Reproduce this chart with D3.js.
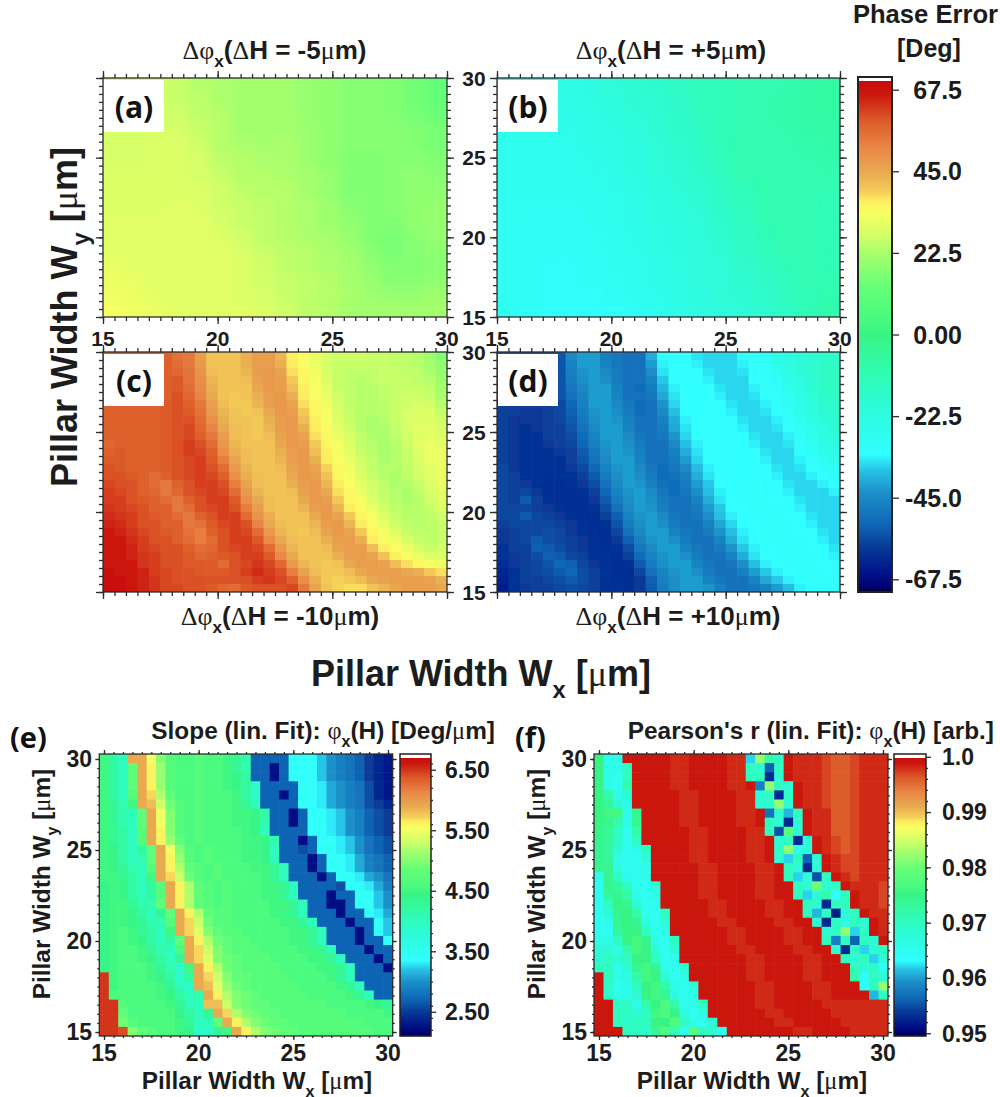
<!DOCTYPE html>
<html>
<head>
<meta charset="utf-8">
<script src="https://cdn.jsdelivr.net/npm/d3@7"></script>
<style>
  html, body { margin: 0; padding: 0; background: #fff; }
  svg { display: block; }
  text { font-family: "Liberation Sans", Arial, sans-serif; font-weight: bold; fill: #1c1c1c; }
  .tag { font-family: "Open Sans", sans-serif; font-weight: 700; fill: #111; }
</style>
</head>
<body>
<div id="chart"></div>
<script>
// colour bar: phase value -> colour
var stopValues = [-71, -70, -66, -58.5, -52, -43.5, -37, -33, -21, -10, 0, 4, 13, 22.5, 27, 33.5, 37, 39.5, 45, 51, 59, 66, 70, 71];
var stopColors = ["#000000", "#00006e", "#001088", "#083c98", "#1068b8", "#1c90c8", "#28c8e8", "#30ffff", "#2dfbdc", "#30fcb0", "#38f484", "#48fa80", "#64ff78", "#a8ff6c", "#d0ff68", "#f8ff62", "#fcec60", "#f4cc58", "#e8a850", "#ea8a48", "#dc5a28", "#cc1810", "#c80a0a", "#c80a0a"];

var phaseTicks = [67.5, 45, 22.5, 0, -22.5, -45, -67.5];
var phaseTickLabels = ["67.5", "45.0", "22.5", "0.00", "-22.5", "-45.0", "-67.5"];
var slopeTicks = [6.5, 5.5, 4.5, 3.5, 2.5];
var slopeTickLabels = ["6.50", "5.50", "4.50", "3.50", "2.50"];
var pearsonTicks = [1000, 990, 980, 970, 960, 950];
var pearsonTickLabels = ["1.0", "0.99", "0.98", "0.97", "0.96", "0.95"];
var majorTicks = [15, 20, 25, 30];

// Phase error, dH = -5um, rows from Wy = 30 down to 15, [deg]
var phaseA = [
[27,27,27,26,24,23,22,22,22,20,19,18,18,17,15,12],
[27,27,27,26,25,23,22,22,22,20,19,18,18,17,15,13],
[28,28,27,27,25,24,22,22,22,20,19,18,18,17,16,14],
[28,28,28,28,26,24,22,22,22,21,19,18,18,18,17,16],
[28,28,29,29,27,24,23,22,23,21,19,18,18,18,17,16],
[28,28,29,29,28,25,24,23,23,21,19,17,17,18,18,17],
[29,29,29,29,28,26,24,24,23,22,20,17,17,18,19,18],
[29,29,29,29,29,27,25,24,24,22,20,17,17,18,19,19],
[29,29,29,30,29,27,26,25,24,23,21,18,17,18,19,20],
[30,30,30,30,30,28,26,25,24,23,21,19,17,17,19,20],
[30,30,30,30,30,29,27,25,24,23,22,20,17,16,18,20],
[30,30,30,30,30,30,28,26,25,24,23,21,18,16,18,19],
[31,30,30,30,30,30,29,27,25,24,23,22,19,17,17,18],
[31,31,30,30,30,30,29,27,26,25,24,22,20,18,18,19],
[32,31,30,30,30,30,29,28,26,25,24,23,21,20,20,21],
[33,32,31,30,30,30,30,29,27,25,24,22,22,22,22,22]];

// Phase error, dH = +5um
var phaseB = [
[-25,-25,-25,-24,-22,-20,-18,-17,-15,-13,-12,-11,-10,-10,-8,-7],
[-25,-25,-25,-24,-23,-21,-19,-18,-16,-13,-12,-11,-10,-9,-8,-7],
[-26,-26,-26,-25,-24,-22,-20,-18,-16,-14,-12,-11,-10,-9,-8,-7],
[-26,-26,-26,-26,-24,-23,-21,-19,-17,-15,-12,-11,-10,-10,-8,-8],
[-27,-27,-27,-26,-25,-24,-22,-20,-18,-15,-12,-10,-10,-10,-9,-8],
[-27,-27,-27,-27,-26,-24,-22,-20,-18,-16,-13,-10,-10,-10,-10,-9],
[-28,-28,-28,-28,-26,-25,-23,-21,-19,-17,-14,-11,-10,-10,-10,-10],
[-28,-28,-28,-28,-27,-26,-24,-22,-20,-18,-15,-12,-10,-10,-11,-11],
[-29,-29,-29,-29,-28,-26,-25,-23,-21,-19,-16,-13,-10,-10,-11,-12],
[-29,-29,-30,-30,-28,-27,-25,-23,-22,-20,-17,-14,-11,-10,-11,-12],
[-29,-30,-30,-30,-29,-27,-26,-24,-22,-20,-18,-15,-12,-10,-11,-12],
[-29,-30,-30,-30,-30,-28,-26,-24,-22,-21,-19,-16,-13,-11,-11,-12],
[-29,-30,-31,-31,-30,-28,-27,-25,-23,-21,-20,-17,-14,-12,-11,-12],
[-29,-30,-31,-31,-30,-29,-27,-25,-23,-21,-20,-18,-16,-13,-11,-11],
[-29,-30,-31,-31,-31,-30,-28,-26,-24,-22,-20,-19,-17,-14,-12,-10],
[-28,-30,-31,-31,-31,-31,-29,-27,-25,-23,-21,-20,-18,-15,-12,-9]];

// Phase error, dH = -10um
var phaseC = [
[58,58,58,58,58,58,55,54,47,41,41,41,44,47,47,43,36,34,31,28,27,27,27,26,26,25,25,24,21,17],
[58,58,58,58,58,58,56,54,48,41,41,41,44,47,47,44,37,34,31,28,26,26,26,26,26,25,25,24,22,19],
[58,58,58,58,58,58,57,55,49,42,41,41,43,47,48,46,38,35,32,28,26,25,25,25,26,26,25,25,23,20],
[58,58,58,58,58,58,59,55,50,43,41,41,42,46,48,47,40,35,33,29,26,25,24,25,26,26,26,25,24,21],
[58,58,58,58,58,58,59,56,51,44,41,41,41,45,48,47,42,36,34,30,26,25,24,24,25,26,26,26,25,22],
[58,58,58,58,58,58,60,57,52,45,41,40,41,44,47,48,44,37,34,31,27,25,24,24,25,26,27,27,26,23],
[58,58,58,58,58,59,60,58,54,47,42,40,40,43,47,48,46,38,35,32,28,25,24,24,25,26,27,28,27,24],
[58,58,58,58,58,59,60,59,55,48,43,41,40,41,45,48,47,40,35,33,28,26,24,24,24,26,28,29,29,26],
[58,58,58,58,58,59,60,60,56,50,44,41,41,40,44,47,48,42,36,33,29,26,24,23,24,26,28,29,29,27],
[58,58,58,58,58,59,60,61,57,52,45,42,41,40,43,47,48,44,37,34,30,27,24,23,23,25,28,30,30,28],
[58,58,58,58,58,59,60,61,58,54,47,42,41,40,42,46,48,46,38,35,31,28,25,23,23,25,27,30,30,29],
[57,58,58,58,58,59,60,62,60,56,48,43,41,41,41,45,48,47,40,35,33,29,25,24,23,24,27,30,31,30],
[58,59,58,58,58,59,60,62,61,58,50,44,42,41,41,44,47,48,42,36,34,30,26,24,23,24,26,29,31,31],
[59,59,58,58,58,59,60,61,62,59,53,46,42,41,41,43,47,48,44,37,34,31,27,25,23,24,26,28,31,31],
[60,59,58,58,58,59,60,61,62,60,56,48,43,41,41,42,46,48,46,39,35,32,28,25,24,24,25,28,30,31],
[60,60,59,58,56,58,60,61,62,61,58,50,44,42,41,41,45,48,47,41,35,33,29,26,24,23,25,27,30,31],
[61,60,60,58,56,54,58,60,62,62,60,53,46,42,41,41,44,47,48,43,37,34,30,27,25,23,24,26,29,31],
[62,61,60,58,57,54,57,60,61,62,61,56,48,43,41,41,42,46,48,45,38,35,31,28,25,24,23,25,28,30],
[62,62,60,59,58,56,54,58,60,62,62,59,50,45,42,41,41,45,48,47,40,35,33,29,26,24,23,24,27,30],
[63,62,61,60,58,58,54,56,60,61,62,60,53,47,42,41,41,43,47,48,43,37,34,31,27,25,24,24,26,29],
[64,63,62,60,59,58,56,54,58,60,62,62,56,49,44,41,41,41,45,48,46,40,35,33,29,26,24,24,25,27],
[65,64,62,60,60,58,58,54,55,59,61,62,60,52,45,42,41,41,43,47,48,43,37,34,31,27,25,24,25,26],
[66,65,63,61,60,59,58,55,53,58,60,62,61,56,48,43,41,40,42,46,48,46,40,35,33,29,26,25,25,26],
[66,66,64,62,60,60,58,56,53,56,60,62,62,59,51,45,42,41,41,44,47,47,44,37,34,32,28,26,25,26],
[67,66,65,62,61,60,60,58,56,57,60,61,62,61,56,48,43,41,41,42,46,47,47,42,36,34,31,28,26,27],
[67,66,65,63,62,60,60,59,57,58,59,60,62,62,59,51,45,41,41,41,44,47,47,46,41,36,34,31,29,29],
[67,67,66,63,62,60,60,59,59,59,56,60,61,63,61,57,48,43,41,40,41,45,47,47,46,42,38,35,33,32],
[68,67,67,65,62,61,60,60,59,59,59,60,62,64,62,60,53,46,42,40,40,42,45,47,47,47,45,44,40,38],
[68,68,67,65,63,61,60,60,60,60,60,60,60,62,63,61,58,50,44,40,39,40,42,45,46,47,47,47,46,44],
[70,68,67,65,63,61,61,60,60,59,57,56,59,60,60,60,61,54,46,41,39,38,38,41,43,45,47,47,47,45]];

// Phase error, dH = +10um
var phaseD = [
[-55,-55,-55,-55,-55,-55,-45,-42,-42,-47,-49,-50,-50,-40,-33,-33,-33,-35,-36,-36,-36,-33,-32,-30,-25,-23,-21,-19,-18,-17],
[-55,-55,-55,-55,-55,-55,-46,-42,-42,-46,-49,-50,-50,-42,-34,-33,-33,-34,-36,-36,-36,-34,-32,-31,-26,-23,-20,-18,-16,-15],
[-55,-55,-55,-55,-55,-55,-47,-43,-42,-45,-48,-50,-50,-44,-35,-33,-33,-33,-35,-36,-36,-35,-33,-32,-28,-24,-21,-18,-16,-14],
[-55,-55,-55,-55,-55,-55,-48,-44,-42,-44,-48,-50,-50,-46,-37,-33,-33,-33,-34,-36,-36,-36,-33,-32,-30,-25,-22,-19,-16,-14],
[-55,-55,-55,-55,-55,-55,-49,-45,-42,-42,-47,-50,-51,-48,-39,-34,-33,-33,-33,-35,-36,-36,-34,-32,-31,-27,-23,-19,-16,-14],
[-55,-55,-55,-55,-55,-55,-50,-46,-42,-42,-46,-50,-50,-49,-41,-35,-33,-33,-33,-34,-36,-36,-35,-33,-32,-29,-24,-20,-17,-15],
[-58,-58,-58,-58,-58,-57,-52,-47,-42,-42,-45,-49,-51,-50,-43,-36,-33,-33,-33,-33,-35,-36,-36,-34,-32,-30,-26,-22,-18,-16],
[-58,-58,-59,-59,-58,-57,-53,-48,-43,-42,-44,-48,-51,-50,-45,-38,-33,-33,-33,-33,-34,-36,-36,-35,-33,-31,-27,-23,-19,-17],
[-58,-59,-59,-59,-58,-57,-54,-49,-44,-42,-43,-47,-50,-50,-47,-40,-34,-33,-33,-33,-33,-35,-36,-36,-34,-32,-29,-24,-20,-18],
[-58,-59,-60,-59,-58,-58,-55,-50,-45,-42,-42,-46,-50,-50,-48,-41,-35,-33,-33,-33,-33,-34,-36,-36,-35,-33,-30,-26,-22,-19],
[-58,-59,-60,-60,-58,-58,-56,-51,-46,-42,-42,-45,-49,-50,-49,-43,-36,-33,-33,-33,-33,-33,-35,-36,-36,-34,-31,-27,-23,-20],
[-58,-59,-60,-60,-59,-58,-57,-52,-47,-43,-42,-44,-48,-50,-50,-45,-38,-34,-33,-33,-33,-33,-34,-36,-36,-35,-32,-29,-25,-22],
[-58,-59,-60,-60,-60,-59,-58,-54,-49,-44,-42,-43,-47,-50,-50,-47,-40,-35,-33,-33,-33,-33,-33,-35,-36,-36,-33,-30,-27,-24],
[-58,-59,-60,-60,-60,-60,-58,-55,-50,-45,-42,-42,-46,-50,-50,-48,-42,-36,-33,-33,-33,-33,-33,-34,-36,-36,-34,-32,-29,-26],
[-57,-59,-60,-60,-60,-60,-59,-57,-52,-46,-43,-42,-45,-49,-51,-49,-45,-38,-34,-33,-33,-33,-33,-33,-35,-36,-35,-33,-31,-29],
[-57,-58,-60,-60,-61,-60,-60,-58,-54,-48,-44,-42,-44,-48,-51,-50,-47,-40,-35,-33,-33,-33,-33,-33,-34,-36,-36,-34,-33,-31],
[-57,-58,-59,-60,-61,-61,-60,-59,-56,-50,-45,-42,-43,-47,-50,-51,-48,-42,-37,-33,-33,-32,-32,-33,-33,-35,-36,-36,-34,-33],
[-57,-58,-57,-59,-61,-61,-61,-60,-58,-52,-46,-43,-42,-45,-49,-51,-49,-44,-38,-34,-33,-32,-32,-33,-33,-34,-36,-36,-36,-34],
[-57,-58,-54,-58,-60,-61,-61,-61,-59,-54,-48,-44,-42,-44,-48,-50,-50,-46,-40,-35,-33,-32,-32,-32,-33,-33,-35,-36,-36,-36],
[-57,-57,-57,-58,-59,-60,-61,-61,-60,-56,-50,-45,-42,-43,-47,-50,-50,-48,-42,-37,-33,-33,-32,-32,-32,-33,-34,-36,-36,-36],
[-57,-57,-54,-57,-58,-59,-60,-61,-61,-58,-53,-46,-43,-42,-45,-49,-50,-49,-44,-38,-34,-33,-32,-32,-32,-33,-33,-35,-36,-36],
[-58,-57,-57,-57,-57,-58,-59,-60,-61,-60,-55,-48,-44,-42,-44,-48,-50,-50,-46,-41,-36,-33,-33,-32,-32,-32,-33,-34,-36,-36],
[-59,-58,-57,-57,-56,-57,-59,-60,-61,-61,-57,-50,-45,-42,-42,-46,-49,-50,-48,-43,-38,-34,-33,-32,-32,-32,-33,-33,-35,-36],
[-59,-58,-57,-54,-56,-57,-58,-59,-60,-61,-59,-53,-47,-43,-42,-44,-48,-50,-50,-46,-40,-35,-33,-32,-32,-32,-32,-33,-34,-36],
[-60,-58,-58,-53,-54,-56,-58,-59,-60,-61,-60,-56,-49,-45,-42,-42,-46,-49,-50,-48,-43,-37,-34,-33,-32,-32,-32,-33,-33,-35],
[-60,-59,-58,-56,-53,-54,-57,-58,-60,-60,-61,-58,-51,-46,-43,-42,-44,-48,-50,-50,-46,-40,-35,-33,-32,-32,-32,-32,-33,-34],
[-61,-59,-58,-57,-55,-52,-53,-57,-59,-60,-61,-60,-54,-48,-44,-42,-42,-46,-49,-50,-49,-44,-38,-34,-33,-32,-32,-32,-33,-33],
[-62,-60,-58,-57,-56,-54,-52,-56,-58,-60,-61,-61,-57,-50,-46,-43,-42,-44,-48,-50,-50,-47,-42,-37,-34,-33,-32,-32,-32,-33],
[-63,-60,-58,-58,-57,-56,-54,-56,-58,-60,-61,-61,-59,-53,-47,-44,-42,-42,-46,-49,-50,-50,-46,-41,-37,-34,-33,-32,-32,-32],
[-64,-60,-59,-58,-58,-57,-56,-57,-58,-60,-60,-61,-59,-54,-48,-44,-42,-42,-43,-47,-50,-50,-49,-46,-42,-38,-34,-33,-32,-32]];

// Slope of the linear fit [deg/um]
var slopeE = [
[4.5,4.2,4.0,5.9,5.9,5.5,5.0,4.7,4.6,4.6,4.7,4.6,4.6,4.5,4.3,4.1,2.7,2.7,2.7,2.7,3.4,3.4,3.4,3.2,3.0,2.9,2.8,2.7,2.5,2.4,2.3],
[4.5,4.2,4.0,4.8,5.9,5.6,5.1,4.7,4.6,4.6,4.7,4.6,4.6,4.5,4.3,4.1,2.7,2.7,2.25,2.7,3.4,3.4,3.4,3.2,3.0,2.9,2.8,2.7,2.5,2.4,2.3],
[4.5,4.2,4.0,4.8,5.9,5.6,5.1,4.7,4.6,4.6,4.7,4.6,4.6,4.5,4.4,4.2,2.7,2.7,2.25,2.7,3.4,3.4,3.4,3.2,3.0,2.9,2.8,2.7,2.5,2.4,2.3],
[4.5,4.2,4.0,4.8,5.9,5.6,5.1,4.7,4.6,4.6,4.7,4.6,4.6,4.5,4.4,4.2,3.9,2.7,2.7,2.7,2.7,3.4,3.4,3.3,3.1,3.0,2.9,2.8,2.6,2.4,2.3],
[4.5,4.2,4.0,4.7,5.9,5.7,5.2,4.8,4.6,4.6,4.7,4.6,4.6,4.6,4.5,4.2,3.9,2.7,2.7,2.25,2.7,3.4,3.4,3.3,3.1,3.0,2.9,2.8,2.6,2.4,2.3],
[4.5,4.3,4.1,4.5,5.9,5.8,5.3,4.9,4.7,4.6,4.7,4.6,4.6,4.6,4.5,4.3,4.0,2.7,2.7,2.7,2.7,3.4,3.4,3.3,3.1,3.0,2.9,2.8,2.6,2.5,2.4],
[4.5,4.3,4.1,4.0,4.8,5.9,5.5,5.0,4.7,4.6,4.7,4.6,4.6,4.6,4.5,4.5,4.4,4.2,2.7,2.7,2.25,2.7,3.4,3.4,3.3,3.2,3.0,2.9,2.7,2.6,2.5],
[4.5,4.3,4.1,4.0,4.8,5.9,5.5,5.0,4.7,4.6,4.7,4.6,4.6,4.6,4.5,4.5,4.4,4.1,2.7,2.7,2.25,2.7,3.4,3.4,3.3,3.2,3.0,2.9,2.7,2.6,2.5],
[4.5,4.3,4.2,4.0,4.7,5.9,5.6,5.0,4.7,4.6,4.7,4.6,4.6,4.6,4.6,4.5,4.4,4.0,2.7,2.7,2.7,2.7,3.4,3.4,3.3,3.2,3.0,2.9,2.7,2.6,2.5],
[4.5,4.3,4.2,4.0,4.7,5.9,5.6,5.1,4.8,4.6,4.7,4.6,4.6,4.6,4.6,4.5,4.5,4.4,4.1,2.7,2.7,2.25,2.7,3.4,3.4,3.3,3.2,3.0,2.8,2.7,2.6],
[4.5,4.4,4.2,4.0,4.2,4.8,5.9,5.5,5.0,4.7,4.6,4.7,4.6,4.6,4.6,4.5,4.5,4.4,4.0,2.7,2.7,2.6,2.7,3.4,3.4,3.3,3.2,3.0,2.8,2.7,2.6],
[4.5,4.4,4.2,4.0,4.1,4.8,5.9,5.6,5.1,4.7,4.6,4.7,4.6,4.6,4.6,4.5,4.5,4.4,4.0,2.7,2.7,2.7,2.25,2.7,3.4,3.4,3.3,3.1,2.9,2.8,2.7],
[4.5,4.4,4.3,4.1,4.0,4.7,5.9,5.6,5.2,4.8,4.7,4.6,4.7,4.6,4.6,4.6,4.5,4.5,4.3,4.0,2.7,2.7,2.25,2.7,3.4,3.4,3.3,3.1,2.9,2.8,2.7],
[4.5,4.5,4.3,4.2,4.0,4.5,5.9,5.7,5.3,4.9,4.7,4.6,4.7,4.6,4.6,4.6,4.6,4.5,4.3,4.0,2.7,2.7,2.7,2.25,2.7,3.4,3.4,3.3,3.1,3.0,2.8],
[4.4,4.5,4.4,4.2,4.0,4.2,4.7,5.9,5.6,5.2,4.8,4.7,4.6,4.7,4.6,4.6,4.6,4.5,4.5,4.3,4.0,2.7,2.7,2.7,2.7,2.6,3.4,3.4,3.3,3.1,2.9],
[4.4,4.5,4.4,4.2,4.0,4.2,4.7,5.9,5.6,5.2,4.8,4.7,4.6,4.7,4.6,4.6,4.6,4.5,4.5,4.3,4.0,2.7,2.7,2.7,2.25,2.7,2.7,3.4,3.4,3.2,3.0],
[4.4,4.5,4.5,4.3,4.1,4.1,4.8,5.9,5.6,5.2,4.8,4.7,4.6,4.7,4.6,4.6,4.6,4.6,4.5,4.5,4.3,4.0,2.7,2.7,2.25,2.25,2.7,3.4,3.4,3.2,3.0],
[4.4,4.5,4.5,4.4,4.2,4.0,4.3,4.8,5.9,5.6,5.2,4.8,4.7,4.7,4.6,4.6,4.6,4.6,4.5,4.5,4.3,4.0,2.7,2.7,2.7,2.25,2.7,2.7,3.4,3.3,3.1],
[4.4,4.5,4.5,4.4,4.3,4.1,4.1,4.7,5.9,5.7,5.3,4.9,4.7,4.7,4.6,4.6,4.6,4.6,4.6,4.5,4.5,4.3,4.0,2.7,2.7,2.7,2.25,2.7,2.7,3.4,3.2],
[4.4,4.5,4.6,4.5,4.3,4.2,4.0,4.5,5.9,5.7,5.4,5.0,4.8,4.7,4.7,4.6,4.6,4.6,4.6,4.6,4.5,4.5,4.3,4.0,2.7,2.7,2.7,2.25,2.7,3.4,3.2],
[4.4,4.5,4.6,4.5,4.4,4.2,4.0,4.2,4.8,5.9,5.6,5.2,4.9,4.8,4.7,4.7,4.6,4.6,4.6,4.6,4.5,4.5,4.3,4.0,2.7,2.7,2.7,2.25,2.7,2.7,3.4],
[4.4,4.5,4.6,4.6,4.5,4.3,4.1,4.0,4.6,5.9,5.7,5.3,5.0,4.8,4.7,4.7,4.7,4.6,4.6,4.6,4.6,4.5,4.5,4.3,4.0,2.7,2.7,2.7,2.25,2.7,2.7],
[4.4,4.5,4.6,4.6,4.5,4.4,4.2,4.0,4.3,5.9,5.7,5.4,5.0,4.9,4.8,4.7,4.7,4.7,4.6,4.6,4.6,4.6,4.5,4.5,4.3,4.0,2.7,2.7,2.7,2.25,2.7],
[4.4,4.5,4.6,4.6,4.6,4.5,4.3,4.1,3.9,4.5,5.9,5.6,5.2,4.9,4.8,4.7,4.7,4.7,4.7,4.6,4.6,4.6,4.6,4.5,4.5,4.3,4.0,2.7,2.7,2.7,2.25],
[6.5,4.5,4.6,4.6,4.6,4.5,4.4,4.2,3.9,4.2,5.9,5.7,5.3,5.0,4.8,4.8,4.7,4.7,4.7,4.7,4.6,4.6,4.6,4.6,4.5,4.3,4.0,2.7,2.7,2.7,2.7],
[6.5,4.5,4.6,4.6,4.6,4.6,4.5,4.3,4.0,3.9,5.9,5.8,5.4,5.1,4.9,4.8,4.7,4.7,4.7,4.7,4.7,4.6,4.6,4.6,4.6,4.5,4.3,4.0,2.7,2.7,2.7],
[6.5,4.6,4.6,4.6,4.6,4.6,4.5,4.4,4.2,4.0,4.1,5.9,5.6,5.2,5.0,4.9,4.8,4.7,4.7,4.7,4.7,4.7,4.6,4.6,4.6,4.6,4.5,4.3,4.0,2.7,2.7],
[6.5,6.5,4.7,4.6,4.6,4.6,4.6,4.5,4.3,4.0,4.0,5.8,5.8,5.3,5.0,4.9,4.8,4.8,4.7,4.7,4.7,4.7,4.7,4.7,4.6,4.6,4.6,4.6,4.5,4.4,4.3],
[6.5,6.5,4.8,4.6,4.6,4.6,4.6,4.6,4.4,4.2,4.0,4.3,5.9,5.7,5.2,5.0,4.9,4.8,4.8,4.7,4.7,4.7,4.7,4.7,4.7,4.7,4.6,4.6,4.6,4.6,4.5],
[6.5,6.5,4.9,4.7,4.6,4.6,4.6,4.6,4.5,4.3,4.0,4.0,4.8,5.9,5.6,5.2,5.0,4.9,4.8,4.8,4.7,4.7,4.7,4.7,4.7,4.7,4.7,4.7,4.6,4.6,4.6],
[6.5,6.5,6.4,5.0,4.8,4.7,4.6,4.6,4.5,4.4,3.9,3.9,4.3,4.5,5.9,5.6,5.2,5.0,4.9,4.8,4.8,4.7,4.7,4.7,4.7,4.7,4.7,4.7,4.7,4.6,4.6]];

// Pearson's r of the linear fit, times 1000
var pearsonF = [
[975,966,966,999,999,999,999,999,998,998,999,999,999,999,998,998,962,982,972,970,999,998,998,998,997,996,996,997,998,998,998],
[975,966,966,970,999,999,999,999,998,998,999,999,999,999,998,998,970,968,956,970,999,998,998,998,997,996,996,997,998,998,998],
[975,966,965,970,999,999,999,999,998,998,999,999,999,999,998,998,970,970,953,968,999,998,998,998,997,996,996,997,998,998,998],
[975,966,965,972,999,999,999,999,998,998,999,999,999,999,998,998,999,958,982,970,968,999,998,998,997,996,996,997,998,998,998],
[975,972,966,968,999,999,999,999,999,998,998,999,999,999,999,998,998,968,970,953,970,999,998,998,997,996,996,997,998,998,998],
[975,973,968,966,999,999,999,999,999,998,998,999,999,999,999,998,998,968,969,982,968,999,998,998,997,996,996,997,998,998,998],
[975,976,976,966,974,999,999,999,999,998,998,999,999,999,999,998,998,999,957,969,961,970,999,998,998,996,996,997,998,998,998],
[975,974,972,966,974,999,999,999,999,998,998,999,999,999,999,998,998,999,970,968,953,968,999,998,998,996,996,997,998,998,998],
[975,973,970,965,972,999,999,999,999,999,998,998,999,999,999,999,998,998,970,955,978,968,999,998,998,996,996,997,998,998,998],
[974,973,970,965,970,999,999,999,999,999,998,998,999,999,999,999,998,998,999,968,970,953,968,999,998,997,996,997,998,998,998],
[974,973,968,965,966,970,999,999,999,999,998,998,999,999,999,999,998,998,999,970,982,966,968,999,998,997,996,997,998,998,998],
[974,973,966,965,965,968,999,999,999,999,998,998,999,999,999,999,998,998,999,968,962,970,956,968,999,998,997,997,998,998,998],
[974,974,967,965,965,966,999,999,999,999,999,998,998,999,999,999,999,998,998,999,970,968,953,968,999,998,997,997,998,998,998],
[966,974,970,966,965,966,999,999,999,999,999,998,998,999,999,999,999,998,998,999,970,962,968,955,970,999,998,997,998,998,998],
[965,974,973,970,965,965,968,999,999,999,999,998,998,999,999,999,999,998,998,999,999,970,968,980,968,970,999,998,998,998,997],
[965,973,974,972,966,965,966,999,999,999,999,998,998,999,999,999,999,998,998,999,999,970,962,968,972,964,970,999,998,998,997],
[965,970,975,974,968,965,965,999,999,999,999,999,998,998,999,999,999,999,998,998,999,999,970,968,953,970,970,999,998,998,997],
[965,968,974,975,972,965,965,970,999,999,999,999,998,998,999,999,999,999,998,998,999,999,970,961,970,952,968,970,999,998,998],
[965,966,974,975,974,967,965,968,999,999,999,999,999,998,998,999,999,999,999,998,998,999,999,968,953,970,966,970,968,999,998],
[965,965,973,975,975,970,965,966,999,999,999,999,999,999,998,998,999,999,999,999,998,998,999,999,968,970,982,962,970,999,998],
[966,966,970,975,976,974,966,965,970,999,999,999,999,999,998,998,999,999,999,999,998,998,999,999,970,958,970,956,970,968,999],
[968,968,966,972,976,975,968,965,968,999,999,999,999,999,999,998,998,999,999,999,999,998,998,999,999,968,953,970,962,968,970],
[968,970,968,970,975,975,970,965,966,999,999,999,999,999,999,999,998,998,999,999,999,999,998,998,999,999,970,968,970,962,968],
[970,970,966,968,974,976,974,966,965,968,999,999,999,999,999,999,998,998,999,999,999,999,998,998,999,999,999,970,968,970,964],
[999,970,966,967,972,976,975,968,965,966,999,999,999,999,999,999,998,998,999,999,999,999,998,998,999,999,999,972,964,970,968],
[999,969,965,966,970,975,976,972,966,965,968,999,999,999,999,999,999,998,998,999,999,999,999,998,998,999,999,999,964,970,982],
[999,969,966,966,968,975,976,974,967,965,966,999,999,999,999,999,999,998,998,999,999,999,999,998,998,999,999,999,999,961,970],
[999,999,969,970,966,972,975,977,972,965,966,970,999,999,999,999,999,998,998,999,999,999,999,999,998,998,998,998,998,998,998],
[999,999,970,970,968,970,976,977,975,967,965,967,999,999,999,999,999,999,998,998,999,999,999,999,999,998,998,998,998,998,998],
[999,999,970,969,970,970,975,975,977,970,966,965,968,999,999,999,999,999,999,998,998,999,999,999,999,999,998,998,998,998,998],
[999,999,999,970,970,969,974,977,971,965,978,970,969,965,999,999,999,999,999,999,999,998,998,999,999,999,999,998,998,998,998]];

var phaseDomain = [-71, 71];
var slopeDomain = [2.1, 6.76];
var pearsonDomain = [949.5, 1000.5];

var svgWidth = 1000;
var svgHeight = 1097;

var svg = d3.select("#chart")
  .append("svg")
  .attr("width", svgWidth)
  .attr("height", svgHeight);

var defs = svg.append("defs");
defs.append("filter").attr("id", "soft1").append("feGaussianBlur").attr("stdDeviation", 0.7);
defs.append("filter").attr("id", "soft2").append("feGaussianBlur").attr("stdDeviation", 5);

var phaseColor = d3.scaleLinear().domain(stopValues).range(stopColors).clamp(true);

function colorFor(domain) {
  var toPhase = d3.scaleLinear().domain(domain).range(phaseDomain);
  return function(v) { return phaseColor(toPhase(v)); };
}

// bold text mixed with the serif greek letters and subscripts
function rich(sel, parts, size) {
  var shift = 0;
  parts.forEach(function(p) {
    var t = sel.append("tspan");
    if (typeof p === "string") {
      t.text(p);
    } else if (p.sym) {
      t.text(p.sym).style("font-family", "'Liberation Serif', serif").style("font-weight", "normal");
    } else {
      t.text(p.sub).style("font-size", (size * 0.66) + "px").attr("dy", size * 0.32);
      shift = size * 0.32;
      return;
    }
    if (shift) { t.attr("dy", -shift); shift = 0; }
  });
}

function label(x, y, parts, size, anchor, rotate) {
  var t = svg.append("text")
    .attr("text-anchor", anchor || "middle")
    .style("font-size", size + "px");
  if (rotate) t.attr("transform", `translate(${x},${y}) rotate(-90)`);
  else t.attr("x", x).attr("y", y);
  rich(t, parts, size);
  return t;
}

function drawHeat(p) {
  var grid = p.grid;
  var x = d3.scaleBand().domain(d3.range(grid[0].length)).range([p.x0, p.x1]);
  var y = d3.scaleBand().domain(d3.range(grid.length)).range([p.y0, p.y1]);
  var color = colorFor(p.domain);
  var cells = [];
  grid.forEach(function(row, r) {
    row.forEach(function(v, c) { cells.push({ r: r, c: c, v: v }); });
  });
  var over = p.blur === "soft2" ? 24 : 4;

  defs.append("clipPath").attr("id", "clip" + p.id)
    .append("rect").attr("x", p.x0).attr("y", p.y0)
    .attr("width", p.x1 - p.x0).attr("height", p.y1 - p.y0);

  svg.append("g").attr("clip-path", `url(#clip${p.id})`)
    .append("g").attr("filter", `url(#${p.blur})`)
    .selectAll("rect")
    .data(cells)
    .enter()
    .append("rect")
    .attr("x", d => x(d.c) - (d.c === 0 ? over : 0))
    .attr("y", d => y(d.r) - (d.r === 0 ? over : 0))
    .attr("width", d => x.bandwidth() + 0.6 + (d.c === 0 || d.c === grid[0].length - 1 ? over : 0))
    .attr("height", d => y.bandwidth() + 0.6 + (d.r === 0 || d.r === grid.length - 1 ? over : 0))
    .attr("fill", d => color(d.v));
}

function styleAxis(g) {
  g.select(".domain").remove();
  g.selectAll("line").attr("stroke", "#2c2c2c").attr("stroke-width", 1.3);
  g.selectAll("text").remove();
}

function drawAxes(p) {
  var x = d3.scaleLinear().domain([15, 30]).range([p.tx0, p.tx1]);
  var y = d3.scaleLinear().domain([15, 30]).range([p.ty0, p.ty1]);
  var minor = d3.range(15, 30.25, 0.5);
  var sides = [
    { make: d3.axisTop, scale: x, at: `translate(0,${p.y0})` },
    { make: d3.axisBottom, scale: x, at: `translate(0,${p.y1})` },
    { make: d3.axisLeft, scale: y, at: `translate(${p.x0},0)` },
    { make: d3.axisRight, scale: y, at: `translate(${p.x1},0)` }
  ];
  sides.forEach(function(s) {
    svg.append("g").attr("transform", s.at)
      .call(s.make(s.scale).tickValues(minor).tickSize(p.minorLen).tickFormat(""))
      .call(styleAxis);
    svg.append("g").attr("transform", s.at)
      .call(s.make(s.scale).tickValues(majorTicks).tickSize(p.majorLen).tickFormat(""))
      .call(styleAxis);
  });
  svg.append("rect")
    .attr("x", p.x0).attr("y", p.y0)
    .attr("width", p.x1 - p.x0).attr("height", p.y1 - p.y0)
    .attr("fill", "none").attr("stroke", "#2c2c2c").attr("stroke-width", 1.3);

  if (p.bottomLabels) {
    svg.append("g").selectAll("text").data(majorTicks).enter().append("text")
      .attr("x", d => x(d)).attr("y", p.bottomLabels)
      .attr("text-anchor", "middle")
      .style("font-size", p.tickFont + "px")
      .text(d => d);
  }
  if (p.sideLabels) {
    svg.append("g").selectAll("text").data(majorTicks).enter().append("text")
      .attr("x", p.sideLabels).attr("y", d => y(d))
      .attr("dy", "0.36em")
      .attr("text-anchor", p.sideAnchor)
      .style("font-size", p.tickFont + "px")
      .text(d => d);
  }
}

function drawTag(p, name) {
  svg.append("rect")
    .attr("x", p.x0 + 1).attr("y", p.y0 + 2)
    .attr("width", 60).attr("height", 52)
    .attr("fill", "#fff");
  svg.append("text").attr("class", "tag")
    .attr("x", p.x0 + 31).attr("y", p.y0 + 40)
    .attr("text-anchor", "middle")
    .style("font-size", "30px")
    .text(name);
}

function drawBar(b) {
  var y = d3.scaleLinear().domain(b.domain).range([b.y1, b.y0]);
  var color = colorFor(b.domain);
  var rows = d3.range(b.y0, b.y1);
  svg.append("g").selectAll("rect")
    .data(rows)
    .enter()
    .append("rect")
    .attr("x", b.x0).attr("width", b.x1 - b.x0)
    .attr("y", d => d).attr("height", 1.2)
    .attr("fill", d => color(y.invert(d + 0.5)));
  // overflow cap above the scale is white
  svg.append("rect")
    .attr("x", b.x0).attr("width", b.x1 - b.x0)
    .attr("y", b.y0).attr("height", 4)
    .attr("fill", "#fff");
  svg.append("rect")
    .attr("x", b.x0).attr("y", b.y0)
    .attr("width", b.x1 - b.x0).attr("height", b.y1 - b.y0)
    .attr("fill", "none").attr("stroke", "#222").attr("stroke-width", b.stroke);

  var axis = d3.axisRight(y)
    .tickValues(b.ticks)
    .tickSize(b.tickLen)
    .tickFormat("");
  svg.append("g").attr("transform", `translate(${b.x1},0)`).call(axis).call(styleAxis);
  if (b.minor) {
    svg.append("g").attr("transform", `translate(${b.x1},0)`)
      .call(d3.axisRight(y).tickValues(b.minor).tickSize(2).tickFormat(""))
      .call(styleAxis);
  }
  svg.append("g").selectAll("text").data(b.ticks).enter().append("text")
    .attr("x", b.labelX).attr("y", d => y(d))
    .attr("dy", "0.36em")
    .attr("text-anchor", b.anchor)
    .style("font-size", b.font + "px")
    .text((d, i) => b.labels[i]);
}

// panels a-d share the phase colour bar
var panels = [
  { id: "a", grid: phaseA, domain: phaseDomain, blur: "soft2", x0: 103, x1: 447, y0: 78, y1: 317, bottomLabels: 346, sideLabels: 474, sideAnchor: "middle" },
  { id: "b", grid: phaseB, domain: phaseDomain, blur: "soft2", x0: 497, x1: 840, y0: 78, y1: 317, bottomLabels: 346 },
  { id: "c", grid: phaseC, domain: phaseDomain, blur: "soft1", x0: 103, x1: 447, y0: 352, y1: 592, sideLabels: 474, sideAnchor: "middle" },
  { id: "d", grid: phaseD, domain: phaseDomain, blur: "soft1", x0: 497, x1: 840, y0: 352, y1: 592 }
];
panels.forEach(function(p) {
  p.tx0 = p.x0; p.tx1 = p.x1; p.ty0 = p.y1; p.ty1 = p.y0;
  p.minorLen = 4; p.majorLen = 7; p.tickFont = 21;
  drawHeat(p);
  drawAxes(p);
  drawTag(p, "(" + p.id + ")");
});

var lowerPanels = [
  { id: "e", grid: slopeE, domain: slopeDomain, blur: "soft1", x0: 99.3, x1: 392.7, y0: 754, y1: 1036, tx0: 104, tx1: 388, ty0: 1032, ty1: 759, bottomLabels: 1061, sideLabels: 92, sideAnchor: "end" },
  { id: "f", grid: pearsonF, domain: pearsonDomain, blur: "soft1", x0: 594, x1: 888, y0: 754, y1: 1036, tx0: 599, tx1: 883, ty0: 1032, ty1: 759, bottomLabels: 1061, sideLabels: 587, sideAnchor: "end" }
];
lowerPanels.forEach(function(p) {
  p.minorLen = 2; p.majorLen = 4; p.tickFont = 23;
  drawHeat(p);
  drawAxes(p);
});

drawBar({ domain: phaseDomain, x0: 858, x1: 892, y0: 77, y1: 592, ticks: phaseTicks, labels: phaseTickLabels, tickLen: 7, labelX: 962, anchor: "end", font: 25, stroke: 2 });
drawBar({ domain: slopeDomain, x0: 400, x1: 431, y0: 754, y1: 1036, ticks: slopeTicks, labels: slopeTickLabels, tickLen: 5, labelX: 445, anchor: "start", font: 23, stroke: 1.5, minor: d3.range(2.2, 6.7, 0.2) });
drawBar({ domain: pearsonDomain, x0: 894, x1: 926, y0: 754, y1: 1036, ticks: pearsonTicks, labels: pearsonTickLabels, tickLen: 5, labelX: 942, anchor: "start", font: 23, stroke: 1.5, minor: d3.range(952, 1000, 2) });

// titles and axis labels
var dphi = [{ sym: "Δφ" }, { sub: "x" }, "(", { sym: "Δ" }];
label(274.5, 59, dphi.concat(["H = -5", { sym: "μ" }, "m)"]), 26);
label(671, 59, dphi.concat(["H = +5", { sym: "μ" }, "m)"]), 26);
label(280, 625, dphi.concat(["H = -10", { sym: "μ" }, "m)"]), 26);
label(678, 625, dphi.concat(["H = +10", { sym: "μ" }, "m)"]), 26);

label(998, 23, ["Phase Error"], 25.6, "end");
label(929, 57, ["[Deg]"], 25);

var bigLabel = "Pillar Width W";
label(481, 686, [bigLabel, { sub: "x" }, " [", { sym: "μ" }, "m]"], 36);
label(77, 317, [bigLabel, { sub: "y" }, " [", { sym: "μ" }, "m]"], 36, "middle", true);

label(495, 739, ["Slope (lin. Fit): ", { sym: "φ" }, { sub: "x" }, "(H) [Deg/", { sym: "μ" }, "m]"], 24.4, "end");
label(994, 739, ["Pearson's r (lin. Fit): ", { sym: "φ" }, { sub: "x" }, "(H) [arb.]"], 24.4, "end");

label(257, 1089, [bigLabel, { sub: "x" }, " [", { sym: "μ" }, "m]"], 24.4);
label(752, 1089, [bigLabel, { sub: "x" }, " [", { sym: "μ" }, "m]"], 24.4);
label(50, 884, [bigLabel, { sub: "y" }, " [", { sym: "μ" }, "m]"], 24.4, "middle", true);
label(545, 884, [bigLabel, { sub: "y" }, " [", { sym: "μ" }, "m]"], 24.4, "middle", true);

svg.append("text").attr("class", "tag").attr("x", 10).attr("y", 748).style("font-size", "29px").text("(e)");
svg.append("text").attr("class", "tag").attr("x", 515).attr("y", 748).style("font-size", "29px").text("(f)");
</script>
</body>
</html>
